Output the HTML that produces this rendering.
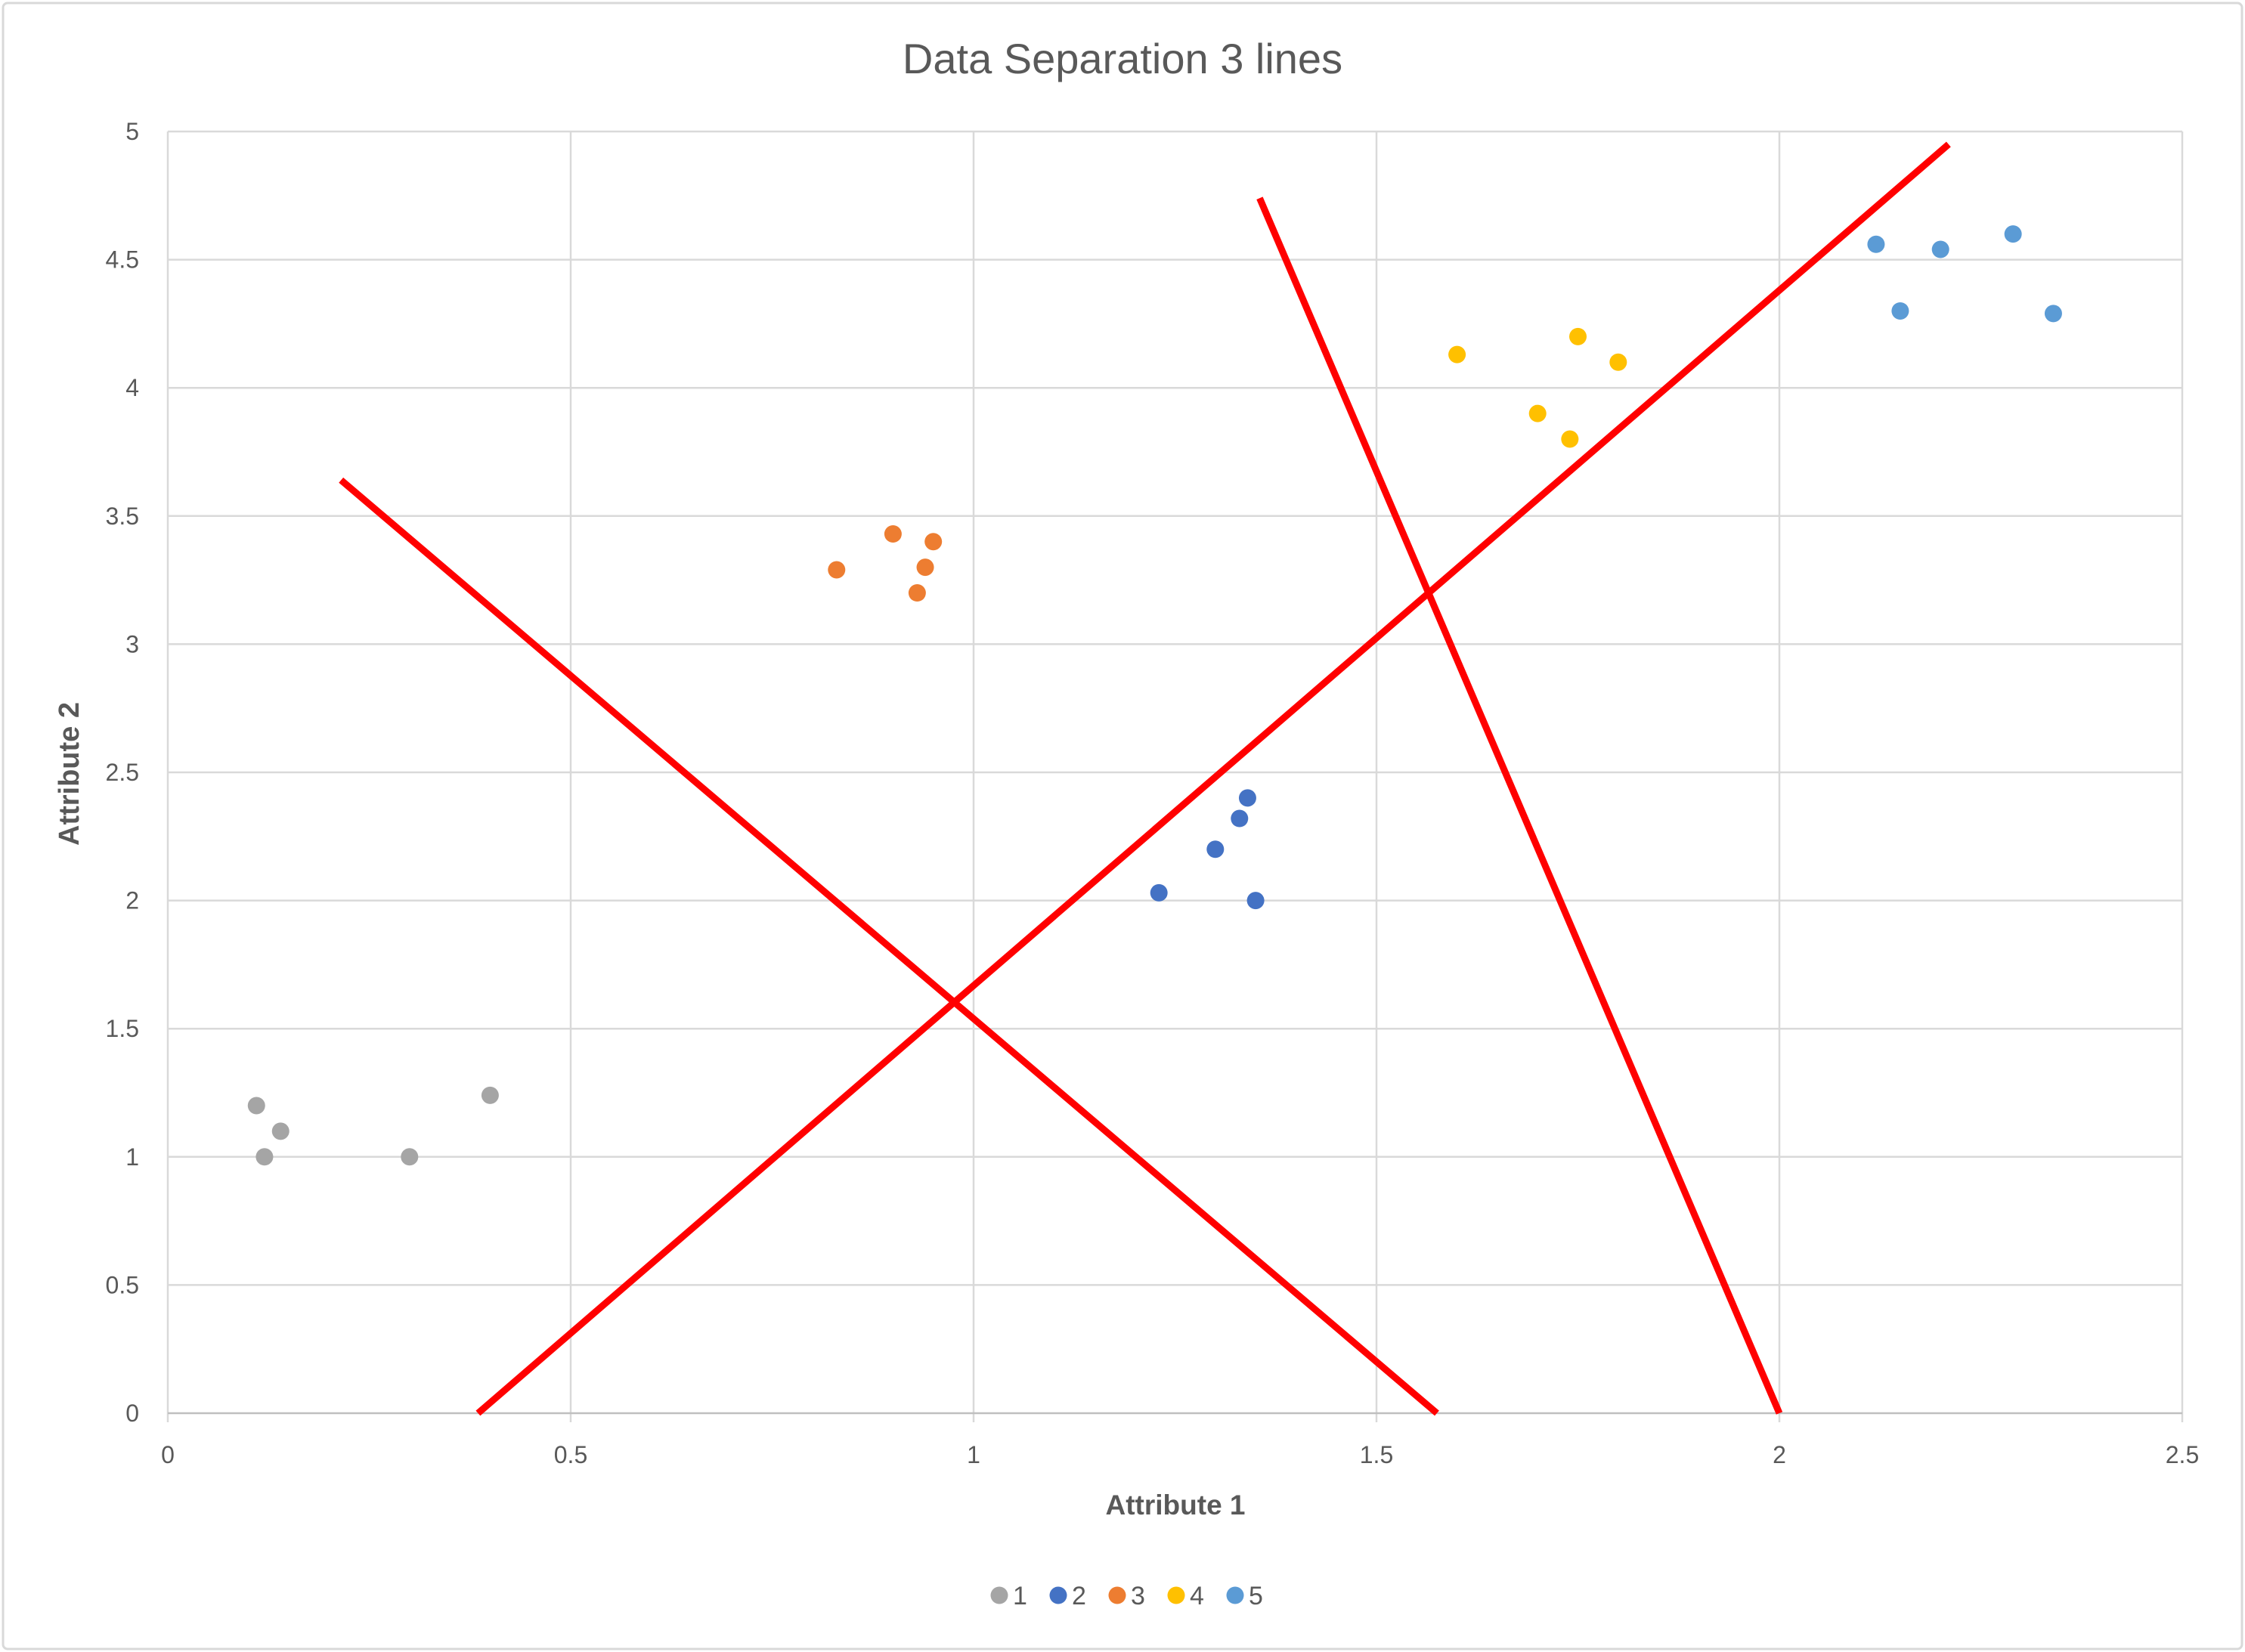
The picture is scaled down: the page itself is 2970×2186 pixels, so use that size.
<!DOCTYPE html>
<html><head><meta charset="utf-8"><style>
html,body{margin:0;padding:0;background:#fff}
svg{display:block;font-family:"Liberation Sans",sans-serif}
</style></head><body>
<svg id="chart" width="2970" height="2186" viewBox="0 0 2970 2186">
<rect x="4" y="4" width="2962" height="2178" rx="6" fill="#fff" stroke="#d9d9d9" stroke-width="3"/>
<text x="1485" y="97" text-anchor="middle" font-size="56" fill="#595959">Data Separation 3 lines</text>
<g id="grid"></g>
<g id="lines"></g>
<g id="points"></g>
<g id="ticks"></g>
<text x="1555" y="2004" text-anchor="middle" font-size="37" font-weight="bold" fill="#595959">Attribute 1</text>
<text transform="translate(104,1024) rotate(-90)" text-anchor="middle" font-size="38" font-weight="bold" fill="#595959">Attribute 2</text>
<g id="legend"></g>
</svg>
<script>
const xTicks=[0,0.5,1,1.5,2,2.5];
const yTicks=[0,0.5,1,1.5,2,2.5,3,3.5,4,4.5,5];
const seriesNames=["1","2","3","4","5"];
const seriesColors=["#A5A5A5","#4472C4","#ED7D31","#FFC000","#5B9BD5"];
const s1x=[0.11,0.14,0.12,0.3,0.4], s1y=[1.2,1.1,1.0,1.0,1.24];
const s2x=[1.23,1.3,1.33,1.34,1.35], s2y=[2.03,2.2,2.32,2.4,2.0];
const s3x=[0.83,0.9,0.95,0.94,0.93], s3y=[3.29,3.43,3.4,3.3,3.2];
const s4x=[1.6,1.75,1.8,1.7,1.74], s4y=[4.13,4.2,4.1,3.9,3.8];
const s5x=[2.12,2.2,2.29,2.15,2.34], s5y=[4.56,4.54,4.6,4.3,4.29];
const lineAx=[0.215,1.575], lineAy=[3.64,0];
const lineBx=[0.385,2.21], lineBy=[0,4.95];
const lineCx=[1.355,2.0], lineCy=[4.74,0];

const X0=222,X1=2887,Y0=1870,Y1=174;
const sx=v=>X0+(v-0)/(2.5-0)*(X1-X0);
const sy=v=>Y0-(v-0)/(5-0)*(Y0-Y1);
const NS="http://www.w3.org/2000/svg";
function mk(tag,attrs,parent){const e=document.createElementNS(NS,tag);for(const k in attrs)e.setAttribute(k,attrs[k]);parent.appendChild(e);return e;}
const grid=document.getElementById('grid'),ticks=document.getElementById('ticks');
xTicks.forEach(t=>{
  const l=mk('line',{x1:sx(t),x2:sx(t),y1:Y1,y2:Y0+12,stroke:'#d9d9d9','stroke-width':2.5},grid);
  
  
  const tx=mk('text',{x:sx(t),y:Y0+66,'text-anchor':'middle','font-size':32,fill:'#595959'},ticks);
  tx.textContent=String(t);
  
  
});
yTicks.forEach(t=>{
  const l=mk('line',{x1:X0,x2:X1,y1:sy(t),y2:sy(t),stroke:t===0?'#bfbfbf':'#d9d9d9','stroke-width':2.5},grid);
  
  
  const tx=mk('text',{x:X0-38,y:sy(t)+11,'text-anchor':'end','font-size':32,fill:'#595959'},ticks);
  tx.textContent=String(t);
  
  
});
const lines=document.getElementById('lines');
[[lineAx,lineAy],[lineBx,lineBy],[lineCx,lineCy]].forEach(([lx,ly],i)=>{
  const l=mk('line',{x1:sx(lx[0]),y1:sy(ly[0]),x2:sx(lx[1]),y2:sy(ly[1]),stroke:'#ff0000','stroke-width':9},lines);
  
  
});
const pts=document.getElementById('points');
[[s1x,s1y],[s2x,s2y],[s3x,s3y],[s4x,s4y],[s5x,s5y]].forEach(([xs,ys],i)=>{
  xs.forEach((x,j)=>{
    const c=mk('circle',{cx:sx(x),cy:sy(ys[j]),r:11.5,fill:seriesColors[i]},pts);
    
    
  });
});
const leg=document.getElementById('legend');
seriesNames.forEach((n,i)=>{
  const x=1322+i*78;
  const c=mk('circle',{cx:x,cy:2111,r:11.5,fill:seriesColors[i]},leg);
  
  
  const t=mk('text',{x:x+18,y:2123,'font-size':34,fill:'#595959'},leg);
  t.textContent=n;
  
  
});
</script>
</body></html>
